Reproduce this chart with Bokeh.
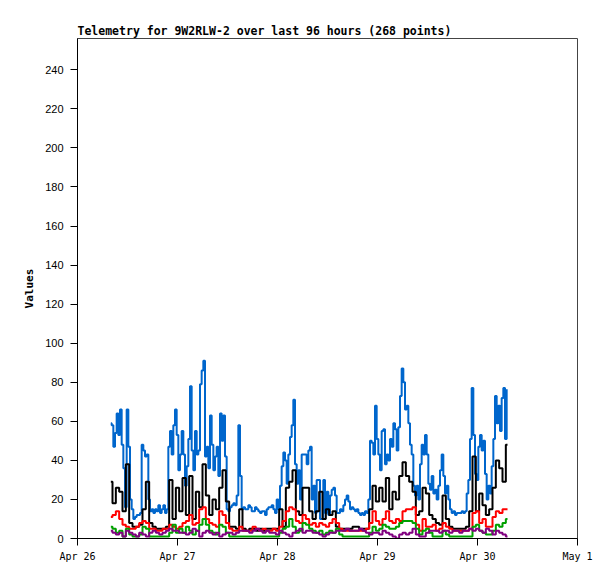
from bokeh.plotting import figure
from bokeh.models import FixedTicker
from bokeh.embed import file_html
from bokeh.resources import INLINE

# ---- data (hours since Apr 26 00:00) ----
blue_start, blue_step = 8.0, 0.4
other_start, other_step = 8.0, 0.8

blue_vals = [
    59, 58, 47, 54, 64, 53, 66, 48, 36, 16, 66, 47, 20, 15, 10, 11, 12, 12, 13,
    48, 45, 42, 43, 20, 14, 15, 13, 15, 14, 17, 13, 15, 17, 13, 15,
    47, 55, 43, 58, 66, 53, 35, 43, 55, 43, 27, 37, 51,
    78, 45, 35, 55, 43, 45, 79, 86, 91,
    42, 47, 36, 63, 48, 35, 42, 47, 32, 64,
    50, 63, 42, 15, 14, 16, 17, 18, 17, 22,
    58, 32, 15, 16, 15, 15, 17, 16, 14, 14,
    16, 15, 14, 13, 14, 14, 12, 15, 16, 16,
    17, 15, 13, 20, 15, 27, 37, 44, 40, 28,
    43, 52, 58, 71, 38, 28, 35, 20, 43, 43,
    43, 38,
    45, 47, 20, 27, 13, 30, 30, 10, 10, 30,
    13, 24, 12, 22, 25, 26, 22, 13, 13, 15,
    14, 17, 20, 22, 19, 15, 16, 15, 14, 15,
    13, 12, 13, 12, 14, 13, 20, 50, 49, 43,
    68, 51, 43, 35, 55, 56, 38, 43, 40, 51,
    47, 59, 56, 45, 57, 73, 87, 80, 66, 68,
    59, 48, 43, 27, 22, 27, 20, 38, 48, 43,
    53, 43, 28, 25, 32, 23, 25, 20, 27, 35,
    43, 32, 23, 27, 20, 15, 13, 14, 12, 13,
    13, 13, 14, 13, 14, 23, 30, 51, 77, 53,
    33, 30, 47, 53, 45, 50, 33, 20, 27, 23,
    37, 51, 73, 59, 68, 55, 72, 77, 51, 76,
]

black_vals = [
    29, 18, 26, 24, 14, 38, 8, 6, 6, 7, 15, 29, 8, 6, 5, 5, 5, 6, 30, 10, 26, 14, 31, 12, 32, 10, 24, 16, 38, 22,
    12, 20, 15, 26, 35, 19, 6, 6, 5, 15, 5, 4, 5, 5, 4, 5, 4, 5, 5, 5, 5, 15, 6, 26, 29, 35, 14, 12, 26, 26,
    14, 10, 14, 24, 10, 15, 12, 14, 6, 5, 5, 5, 5, 6, 6, 5, 5, 5, 15, 27, 19, 26, 19, 31, 15, 24, 20, 32, 39, 32,
    29, 24, 12, 14, 26, 23, 12, 10, 8, 7, 22, 10, 6, 5, 5, 5, 5, 6, 14, 42, 14, 23, 17, 12, 15, 26, 40, 36, 29, 48,
]

red_vals = [
    11, 12, 14, 10, 7, 6, 5, 5, 6, 8, 9, 8, 5, 5, 4, 4, 5, 5, 7, 6, 5, 6, 8, 9, 12, 7, 8, 15, 16, 10,
    8, 7, 6, 14, 12, 8, 5, 4, 4, 6, 4, 4, 4, 6, 5, 4, 5, 4, 4, 5, 4, 6, 9, 14, 16, 15, 9, 8, 12, 10,
    7, 8, 6, 8, 7, 6, 8, 10, 8, 5, 4, 4, 4, 4, 4, 4, 4, 5, 8, 14, 9, 7, 10, 14, 9, 8, 10, 9, 14, 15,
    15, 16, 7, 4, 10, 6, 6, 7, 4, 5, 8, 6, 5, 4, 4, 4, 4, 4, 5, 13, 14, 8, 10, 6, 6, 11, 14, 13, 15, 15,
]

green_vals = [
    6, 5, 3, 4, 1, 5, 2, 1, 1, 2, 6, 5, 1, 1, 1, 1, 1, 1, 3, 7, 3, 5, 3, 6, 4, 2, 4, 7, 10, 7,
    4, 3, 2, 7, 6, 3, 1, 1, 1, 1, 1, 1, 1, 1, 1, 1, 1, 1, 1, 1, 1, 3, 5, 6, 10, 6, 3, 4, 8, 7,
    5, 4, 3, 4, 2, 3, 4, 3, 5, 2, 1, 1, 1, 1, 1, 1, 1, 1, 3, 6, 4, 5, 7, 6, 5, 5, 6, 8, 9, 9,
    9, 8, 5, 2, 4, 5, 3, 1, 1, 1, 4, 2, 1, 1, 1, 1, 1, 1, 1, 6, 7, 4, 3, 2, 2, 4, 7, 6, 8, 10,
]

purple_vals = [
    4, 3, 2, 3, 1, 4, 3, 2, 1, 3, 2, 1, 3, 4, 3, 2, 3, 4, 5, 4, 4, 3, 3, 2, 3, 5, 4, 1, 3, 4,
    3, 2, 3, 1, 2, 3, 3, 2, 3, 4, 4, 4, 3, 4, 5, 4, 3, 4, 3, 3, 2, 4, 3, 2, 1, 3, 4, 5, 3, 4,
    4, 3, 3, 2, 1, 2, 3, 3, 4, 4, 4, 5, 4, 4, 4, 5, 4, 3, 2, 3, 3, 2, 4, 3, 2, 1, 0, 2, 3, 2,
    3, 5, 2, 1, 1, 3, 4, 4, 4, 3, 4, 4, 3, 4, 4, 3, 4, 4, 5, 4, 5, 4, 3, 5, 4, 2, 4, 3, 2, 1,
]

x_ticks = [0, 24, 48, 72, 96, 120]
x_tick_labels = ["Apr 26", "Apr 27", "Apr 28", "Apr 29", "Apr 30", "May 1"]
y_ticks = list(range(0, 241, 20))

blue_t = [blue_start + blue_step * i for i in range(len(blue_vals))]
other_t = [other_start + other_step * i for i in range(len(black_vals))]

p = figure(width=607, height=570, output_backend="svg", toolbar_location=None,
           x_range=(0, 120), y_range=(0, 256),
           min_border_left=77, min_border_right=30, min_border_top=38, min_border_bottom=32)

series = [
    (blue_t, blue_vals, "#0066cc"),
    (other_t, black_vals, "#000000"),
    (other_t, red_vals, "#ff0000"),
    (other_t, green_vals, "#00a000"),
    (other_t, purple_vals, "#800080"),
]
for t, v, c in series:
    p.step(t, v, line_color=c, line_width=2, mode="center")

p.title.text = "Telemetry for 9W2RLW-2 over last 96 hours (268 points)"
p.title.text_font = "DejaVu Sans Mono"
p.title.text_font_size = "11.5px"
p.title.text_font_style = "bold"
p.title.text_color = "black"
p.title.align = "left"
p.title.offset = 0
p.title.standoff = 2

p.grid.visible = False
p.outline_line_color = "#444444"
p.outline_line_width = 1
p.background_fill_color = "white"
p.border_fill_color = "white"

for ax in (p.xaxis, p.yaxis):
    ax.axis_line_color = "black"
    ax.axis_line_width = 1
    ax.major_tick_line_color = "black"
    ax.major_tick_out = 7
    ax.major_tick_in = 0
    ax.minor_tick_line_color = None
    ax.major_label_text_color = "black"

p.xaxis.ticker = FixedTicker(ticks=x_ticks)
p.xaxis.major_label_overrides = {t: l for t, l in zip(x_ticks, x_tick_labels)}
p.xaxis.major_label_text_font = "DejaVu Sans Mono"
p.xaxis.major_label_text_font_size = "10px"
p.xaxis.major_label_standoff = 5

p.yaxis.ticker = FixedTicker(ticks=y_ticks)
p.yaxis.major_label_text_font = "Liberation Sans"
p.yaxis.major_label_text_font_size = "11px"
p.yaxis.major_label_standoff = 7
p.yaxis.axis_label = "Values"
p.yaxis.axis_label_text_font = "DejaVu Sans Mono"
p.yaxis.axis_label_text_font_size = "11px"
p.yaxis.axis_label_text_font_style = "bold"
p.yaxis.axis_label_text_color = "black"
p.yaxis.axis_label_standoff = 6

open("out.html", "w").write(file_html(p, INLINE))
